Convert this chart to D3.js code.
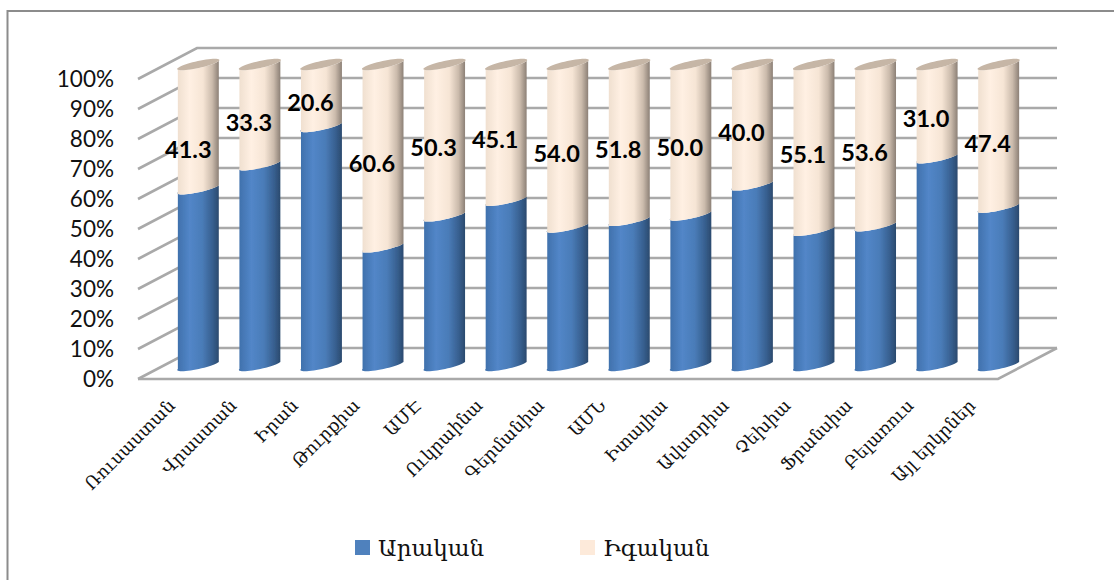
<!DOCTYPE html>
<html><head><meta charset="utf-8">
<script src="https://cdn.jsdelivr.net/npm/d3@7"></script>
<style>html,body{margin:0;padding:0;background:#fff;overflow:hidden}svg{display:block}</style>
</head><body><div id="chart"></div>
<script>
const categories = ["Ռուսաստան","Վրաստան","Իրան","Թուրքիա","ԱՄԷ","Ուկրաինա","Գերմանիա","ԱՄՆ","Իտալիա","Ավստրիա","Չեխիա","Ֆրանսիա","Բելառուս","Այլ երկրներ"];
const female = [41.3,33.3,20.6,60.6,50.3,45.1,54.0,51.8,50.0,40.0,55.1,53.6,31.0,47.4];
const male = [58.7,66.7,79.4,39.4,49.7,54.9,46.0,48.2,50.0,60.0,44.9,46.4,69.0,52.6];
const femaleLabels = ["41.3","33.3","20.6","60.6","50.3","45.1","54.0","51.8","50.0","40.0","55.1","53.6","31.0","47.4"];
const ticks = [0,10,20,30,40,50,60,70,80,90,100];
const seriesNames = ["Արական","Իգական"];

const W=1114,H=580;
const svg=d3.select("#chart").append("svg").attr("width",W).attr("height",H);
const defs=svg.append("defs");
function grad(id,stops){
  const g=defs.append("linearGradient").attr("id",id).attr("x1",0).attr("x2",1).attr("y1",0).attr("y2",0);
  stops.forEach(s=>g.append("stop").attr("offset",s[0]).attr("stop-color",s[1]));
}
grad("blue",[[0,"#3f70ab"],[.3,"#5286c8"],[.6,"#4a7cb8"],[.85,"#375f8f"],[1,"#2b4a6e"]]);
grad("peach",[[0,"#efdfcf"],[.3,"#fff0e3"],[.62,"#f6e5d5"],[.84,"#cbbbac"],[1,"#8c8076"]]);
defs.append("filter").attr("id","blur").append("feGaussianBlur").attr("stdDeviation",.5);
defs.append("filter").attr("id","soft").append("feGaussianBlur").attr("stdDeviation",.6);

// frame
svg.append("path").attr("d",`M7.5,${H}V11H${W}`).attr("fill","none").attr("stroke","#8c8c8c").attr("stroke-width",2);

// scales
const dx=59, dy=31;
const yFront=d3.scaleLinear().domain([0,100]).range([379,79]);
const yBar=d3.scaleLinear().domain([0,100]).range([369,68]);
const xGrid=d3.scaleLinear().domain([0,1]).range([138,998]);
const x=d3.scaleBand().domain(categories).range([168,1029]).paddingInner(.335).paddingOuter(.16);
const bw=x.bandwidth();

// grid
const grid=svg.append("g").attr("fill","none").attr("stroke","#a9a9a9").attr("stroke-width",2.6).attr("filter","url(#blur)");
ticks.forEach(t=>{
  const y=yFront(t);
  grid.append("path").attr("d",`M${xGrid(0)},${y}L${xGrid(0)+dx},${y-dy}H${xGrid(1)+dx}`);
});
grid.append("path").attr("d",`M${xGrid(0)},${yFront(0)}H${xGrid(1)}L${xGrid(1)+dx},${yFront(0)-dy}`);

// y labels
svg.append("g").selectAll("text").data(ticks).join("text")
  .attr("x",114).attr("y",d=>yFront(d)).attr("dy","0.36em").attr("text-anchor","end")
  .attr("font-family","Lato,sans-serif").attr("font-size",22.5).attr("fill","#111").text(d=>d+"%");

// cylinders
const rise=7;
function pt(cx,yLeft,t){
  const a=[bw/2,-rise/2], b=[-5,4.5];
  return [cx+a[0]*Math.cos(t)+b[0]*Math.sin(t), yLeft-rise/2+a[1]*Math.cos(t)+b[1]*Math.sin(t)];
}
const line=d3.line();
const front=(cx,y)=>d3.range(0,25).map(i=>pt(cx,y,Math.PI-i*Math.PI/24));
function segment(cx,v0,v1){
  const top=front(cx,yBar(v1)), bot=front(cx,yBar(v0)).reverse();
  return line(top.concat(bot))+"Z";
}
const bars=svg.append("g").attr("filter","url(#soft)");
categories.forEach((c,i)=>{
  const cx=x(c)+bw/2;
  const g=bars.append("g");
  g.append("path").attr("d",segment(cx,0,male[i])).attr("fill","url(#blue)");
  g.append("path").attr("d",segment(cx,male[i],100)).attr("fill","url(#peach)");
  g.append("path").attr("d",line(d3.range(0,49).map(k=>pt(cx,yBar(100),k*Math.PI/24)))+"Z").attr("fill","#c6b6a6");
});

// data labels
svg.append("g").selectAll("text").data(categories).join("text")
  .attr("x",(c,i)=>x(c)+bw/2-11+(i===0?1:0))
  .attr("y",(c,i)=>yBar(male[i]+female[i]/2)+4+(i===0?15:0))
  .attr("dy","0.36em").attr("text-anchor","middle")
  .attr("font-family","Lato,sans-serif").attr("font-weight",700).attr("font-size",23.5).attr("fill","#000")
  .text((c,i)=>femaleLabels[i]);

// category labels
svg.append("g").selectAll("text").data(categories).join("text")
  .attr("transform",c=>`translate(${x(c)+bw/2-31},${398}) rotate(-45)`)
  .attr("text-anchor","end").attr("dy","0.7em")
  .attr("font-family","'DejaVu Serif',serif").attr("font-size",17.6).attr("fill","#111").text(c=>c);

// legend
const legendColor=["#4f81bd","#fdeada"], legendX=[355,580];
const lg=svg.append("g");
seriesNames.forEach((n,i)=>{
  lg.append("rect").attr("x",legendX[i]).attr("y",540).attr("width",15).attr("height",15).attr("fill",legendColor[i]);
  lg.append("text").attr("x",legendX[i]+23).attr("y",556).attr("font-family","'DejaVu Serif',serif").attr("font-size",23).attr("fill","#111").text(n);
});
</script></body></html>
